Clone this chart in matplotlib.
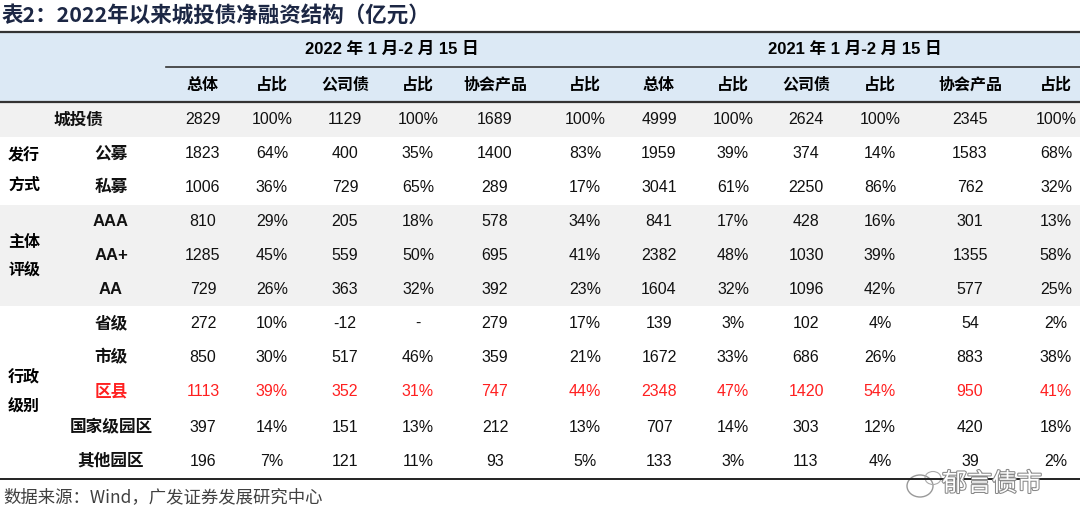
import matplotlib.pyplot as plt
import matplotlib.patheffects as pe
from matplotlib.patches import Ellipse

plt.rcParams['font.family'] = ['Noto Sans CJK SC', 'DejaVu Sans']

# Données du tableau
title = "表2：2022年以来城投债净融资结构（亿元）"
periods = ["2022 年 1 月-2 月 15 日", "2021 年 1 月-2 月 15 日"]
col_heads = ["总体", "占比", "公司债", "占比", "协会产品", "占比"] * 2
groups = ["", "发行\n方式", "主体\n评级", "行政\n级别"]
row_labels = ["城投债", "公募", "私募", "AAA", "AA+", "AA",
              "省级", "市级", "区县", "国家级园区", "其他园区"]
row_group = [0, 1, 1, 2, 2, 2, 3, 3, 3, 3, 3]
values = [
    ["2829", "100%", "1129", "100%", "1689", "100%", "4999", "100%", "2624", "100%", "2345", "100%"],
    ["1823", "64%", "400", "35%", "1400", "83%", "1959", "39%", "374", "14%", "1583", "68%"],
    ["1006", "36%", "729", "65%", "289", "17%", "3041", "61%", "2250", "86%", "762", "32%"],
    ["810", "29%", "205", "18%", "578", "34%", "841", "17%", "428", "16%", "301", "13%"],
    ["1285", "45%", "559", "50%", "695", "41%", "2382", "48%", "1030", "39%", "1355", "58%"],
    ["729", "26%", "363", "32%", "392", "23%", "1604", "32%", "1096", "42%", "577", "25%"],
    ["272", "10%", "-12", "-", "279", "17%", "139", "3%", "102", "4%", "54", "2%"],
    ["850", "30%", "517", "46%", "359", "21%", "1672", "33%", "686", "26%", "883", "38%"],
    ["1113", "39%", "352", "31%", "747", "44%", "2348", "47%", "1420", "54%", "950", "41%"],
    ["397", "14%", "151", "13%", "212", "13%", "707", "14%", "303", "12%", "420", "18%"],
    ["196", "7%", "121", "11%", "93", "5%", "133", "3%", "113", "4%", "39", "2%"],
]
highlight_row = "区县"
source = "数据来源：Wind，广发证券发展研究中心"
watermark = "郁言债市"

# Mise en page (pixels)
W, H = 1080, 530
col_x = [203, 272, 345, 418, 495, 585, 659, 733, 806, 880, 970, 1056]
period_x = [392, 855]
row_y = [120, 154, 187, 222, 256, 290, 323, 357, 392, 427, 461]
band_y = [(102, 137, "#f1f1f1"), (137, 205, "white"), (205, 306, "#f1f1f1"), (306, 479, "white")]
red = "#ff2020"
mixed = ["Liberation Sans", "Noto Sans CJK SC"]

fig = plt.figure(figsize=(W / 100, H / 100), dpi=100)
ax = fig.add_axes([0, 0, 1, 1])
ax.set_xlim(0, W)
ax.set_ylim(H, 0)
ax.axis("off")

# fonds
ax.fill_between([0, W], 32, 102, color="#dce9f5", lw=0)
for y0, y1, c in band_y:
    ax.fill_between([0, W], y0, y1, color=c, lw=0)

# lignes
ax.plot([0, W], [32, 32], color="#333333", lw=1.6)
ax.plot([166, W], [67, 67], color="#333333", lw=1.2)
ax.plot([0, W], [102, 102], color="#333333", lw=1.6)
ax.plot([0, W], [479, 479], color="#222222", lw=1.4)

ax.text(2, 15, title, fontsize=15.5, fontweight="heavy", color="#1c2744",
        ha="left", va="center")

for px, p in zip(period_x, periods):
    ax.text(px, 49, p, fontsize=12, fontweight="bold", ha="center", va="center",
            family=mixed)
for cx, h in zip(col_x, col_heads):
    ax.text(cx, 85, h, fontsize=11.5, fontweight="bold", ha="center", va="center")

# étiquettes de groupe
for g in range(1, len(groups)):
    ys = [y for y, rg in zip(row_y, row_group) if rg == g]
    yc = (ys[0] + ys[-1]) / 2
    ax.text(8, yc, groups[g], fontsize=11.5, fontweight="bold", ha="left", va="center",
            linespacing=2.0)

for y, lab, rg, vals in zip(row_y, row_labels, row_group, values):
    c = red if lab == highlight_row else "#111111"
    lx = 78 if rg == 0 else 111
    ax.text(lx, y, lab, fontsize=12, fontweight="bold", color=c, ha="center", va="center",
            family=mixed)
    for cx, v in zip(col_x, vals):
        ax.text(cx, y, v, fontsize=11.5, color=c, ha="center", va="center", family=mixed)

ax.text(3, 497, source, fontsize=12.5, color="#404040", ha="left", va="center",
        family=["Noto Sans CJK SC", "Liberation Sans"])

# filigrane
ax.add_patch(Ellipse((920, 486), 26, 22, fill=False, ec="#999999", lw=1))
ax.add_patch(Ellipse((933, 478), 16, 13, fill=False, ec="#aaaaaa", lw=0.8))
ax.text(942, 484, watermark, fontsize=18, color="white", ha="left", va="center",
        path_effects=[pe.withStroke(linewidth=1.5, foreground="#888888")])

fig.savefig("out.png", dpi=100)
